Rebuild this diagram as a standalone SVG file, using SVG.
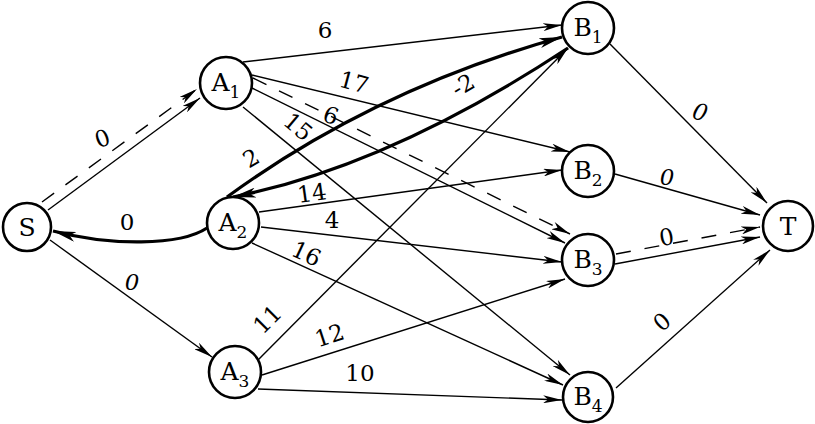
<svg xmlns="http://www.w3.org/2000/svg" width="815" height="424" viewBox="0 0 815 424">
<style>
.node circle{fill:#fff;stroke:#000;stroke-width:2.6}
.nl{font-size:25px;text-anchor:middle;fill:#000}
.sub{font-size:17px}
.e{fill:none;stroke:#000;stroke-width:1.4;marker-end:url(#ah)}
.d{fill:none;stroke:#000;stroke-width:1.4;stroke-dasharray:15 14;marker-end:url(#ah)}
.t{fill:none;stroke:#000;stroke-width:3.2;marker-end:url(#ahb)}
.lb{font-size:23px;text-anchor:middle;fill:#000}
.it{font-style:italic}
</style>
<defs>
<marker id="ah" markerUnits="userSpaceOnUse" markerWidth="20" markerHeight="8" refX="19" refY="4" orient="auto">
<path d="M0,0 L19,4 L0,8 L5,4 Z" fill="#000"/>
</marker>
<marker id="ahb" markerUnits="userSpaceOnUse" markerWidth="24" markerHeight="10" refX="23" refY="5" orient="auto">
<path d="M0,0 L23,5 L0,10 L6,5 Z" fill="#000"/>
</marker>
</defs>
<g id="connectors">
<line class="e" x1="48" y1="210" x2="200" y2="98"/>
<line class="d" x1="42" y1="202" x2="197" y2="89"/>
<path class="t" d="M207,228 C180,246 110,246 53,231"/>
<line class="e" x1="50" y1="240" x2="212" y2="357"/>
<line class="e" x1="243" y1="62" x2="562" y2="25"/>
<line class="e" x1="252" y1="75" x2="570" y2="152"/>
<line class="e" x1="252" y1="88" x2="565" y2="243"/>
<line class="d" x1="253" y1="78" x2="570" y2="234"/>
<line class="e" x1="243" y1="107" x2="570" y2="375"/>
<path class="t" d="M227,197 Q375,89 562,37"/>
<path class="t" d="M568,48 Q389,166 233,197"/>
<line class="e" x1="259" y1="212" x2="562" y2="170"/>
<line class="e" x1="261" y1="227" x2="562" y2="262"/>
<line class="e" x1="252" y1="243" x2="563" y2="385"/>
<line class="e" x1="258" y1="360" x2="568" y2="48"/>
<line class="e" x1="262" y1="375" x2="565" y2="279"/>
<line class="e" x1="258" y1="389" x2="562" y2="400"/>
<line class="e" x1="610" y1="44" x2="767" y2="203"/>
<line class="e" x1="615" y1="174" x2="760" y2="215"/>
<line class="e" x1="615" y1="264" x2="760" y2="237"/>
<line class="d" x1="616" y1="254" x2="760" y2="227"/>
<line class="e" x1="616" y1="388" x2="770" y2="250"/>
</g>
<g id="labels" font-family="'DejaVu Serif', 'Liberation Serif', serif">
<text class="lb" transform="translate(105,146) rotate(-20)">0</text>
<text class="lb" x="127" y="230">0</text>
<text class="lb it" x="132" y="290">0</text>
<text class="lb" x="325" y="38">6</text>
<text class="lb" transform="translate(352,90) rotate(15)">17</text>
<text class="lb" transform="translate(328,123) rotate(20)">6</text>
<text class="lb" transform="translate(293,133) rotate(40)">15</text>
<text class="lb" transform="translate(255,165) rotate(-30)">2</text>
<text class="lb" transform="translate(467,92) rotate(-30)">-2</text>
<text class="lb" transform="translate(313,201) rotate(-8)">14</text>
<text class="lb" x="332" y="228">4</text>
<text class="lb" transform="translate(303,261) rotate(25)">16</text>
<text class="lb" transform="translate(273,325) rotate(-45)">11</text>
<text class="lb" transform="translate(332,343) rotate(-18)">12</text>
<text class="lb" x="360" y="381">10</text>
<text class="lb it" transform="translate(698,120) rotate(15)">0</text>
<text class="lb it" x="667" y="185">0</text>
<text class="lb" transform="translate(668,245) rotate(-10)">0</text>
<text class="lb" transform="translate(667,328) rotate(-40)">0</text>
</g>
<g id="nodes" font-family="'DejaVu Serif', 'Liberation Serif', serif">
<g id="S" class="node"><circle cx="27" cy="227" r="24"/><text class="nl" x="27" y="236">S</text></g>
<g id="A1" class="node"><circle cx="226" cy="83" r="26"/><text class="nl" x="226" y="91">A<tspan class="sub" dy="7">1</tspan></text></g>
<g id="A2" class="node"><circle cx="233" cy="223" r="26"/><text class="nl" x="233" y="231">A<tspan class="sub" dy="7">2</tspan></text></g>
<g id="A3" class="node"><circle cx="235" cy="372" r="26"/><text class="nl" x="235" y="380">A<tspan class="sub" dy="7">3</tspan></text></g>
<g id="B1" class="node"><circle cx="588" cy="28" r="26"/><text class="nl" x="588" y="36">B<tspan class="sub" dy="7">1</tspan></text></g>
<g id="B2" class="node"><circle cx="588" cy="171" r="26"/><text class="nl" x="588" y="179">B<tspan class="sub" dy="7">2</tspan></text></g>
<g id="B3" class="node"><circle cx="588" cy="260" r="26"/><text class="nl" x="588" y="268">B<tspan class="sub" dy="7">3</tspan></text></g>
<g id="B4" class="node"><circle cx="588" cy="397" r="25"/><text class="nl" x="588" y="405">B<tspan class="sub" dy="7">4</tspan></text></g>
<g id="T" class="node"><circle cx="788" cy="226" r="25"/><text class="nl" x="788" y="235">T</text></g>
</g>
</svg>
